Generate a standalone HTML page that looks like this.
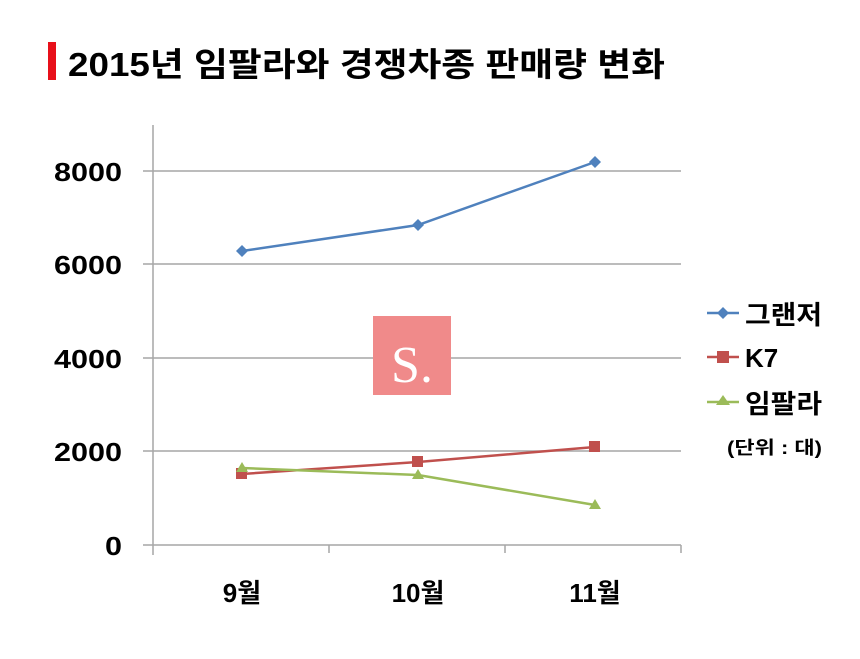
<!DOCTYPE html>
<html><head><meta charset="utf-8"><style>
body{margin:0;background:#fff;}
svg text{font-family:"Liberation Sans","Noto Sans CJK KR",sans-serif;font-weight:bold;fill:#000;}
</style></head><body>
<svg width="860" height="654" xmlns="http://www.w3.org/2000/svg">
<rect width="860" height="654" fill="#fff"/>
<rect x="48" y="42" width="8" height="38" fill="#e8101a"/>
<text x="68" y="76" font-size="33" textLength="597" lengthAdjust="spacingAndGlyphs">2015년 임팔라와 경쟁차종 판매량 변화</text>
<g stroke="#a6a6a6" stroke-width="1.5">
<line x1="143" y1="171" x2="681" y2="171"/>
<line x1="143" y1="264" x2="681" y2="264"/>
<line x1="143" y1="358" x2="681" y2="358"/>
<line x1="143" y1="451" x2="681" y2="451"/>
<line x1="143" y1="545" x2="681" y2="545"/>
<line x1="153" y1="125" x2="153" y2="555"/>
<line x1="329" y1="545" x2="329" y2="553"/>
<line x1="505" y1="545" x2="505" y2="553"/>
<line x1="681" y1="545" x2="681" y2="553"/>
</g>
<g font-size="26">
<text x="54" y="181" textLength="68" lengthAdjust="spacingAndGlyphs">8000</text>
<text x="54" y="274" textLength="68" lengthAdjust="spacingAndGlyphs">6000</text>
<text x="54" y="368" textLength="68" lengthAdjust="spacingAndGlyphs">4000</text>
<text x="54" y="461" textLength="68" lengthAdjust="spacingAndGlyphs">2000</text>
<text x="105" y="555" textLength="17" lengthAdjust="spacingAndGlyphs">0</text>
</g>
<g font-size="26" text-anchor="middle">
<text x="242" y="602">9월</text>
<text x="418" y="602">10월</text>
<text x="595" y="602">11월</text>
</g>
<rect x="373" y="316" width="78" height="79" fill="#f08a8a"/>
<text x="412" y="382" font-size="52" text-anchor="middle" style="font-family:'Liberation Serif',serif;font-weight:normal;fill:#fff">S.</text>
<polyline points="242,251 418,225 595,162" fill="none" stroke="#4f81bd" stroke-width="2.5"/>
<g fill="#4f81bd">
<polygon points="242,245 248,251 242,257 236,251"/>
<polygon points="418,219 424,225 418,231 412,225"/>
<polygon points="595,156 601,162 595,168 589,162"/>
</g>
<polyline points="242,474 418,462 595,447" fill="none" stroke="#c0504d" stroke-width="2.5"/>
<g fill="#c0504d">
<rect x="236" y="468" width="11" height="11"/>
<rect x="412" y="456" width="11" height="11"/>
<rect x="589" y="441" width="11" height="11"/>
</g>
<polyline points="242,468 418,475 595,505" fill="none" stroke="#9bbb59" stroke-width="2.5"/>
<g fill="#9bbb59">
<polygon points="242,462 248,472 236,472"/>
<polygon points="418,469 424,479 412,479"/>
<polygon points="595,499 601,509 589,509"/>
</g>
<line x1="707" y1="313" x2="739" y2="313" stroke="#4f81bd" stroke-width="2.5"/>
<polygon points="723,307 729,313 723,319 717,313" fill="#4f81bd"/>
<text x="745" y="324" font-size="26" textLength="77" lengthAdjust="spacingAndGlyphs">그랜저</text>
<line x1="707" y1="357" x2="739" y2="357" stroke="#c0504d" stroke-width="2.5"/>
<rect x="717" y="351" width="12" height="12" fill="#c0504d"/>
<text x="745" y="367" font-size="26">K7</text>
<line x1="707" y1="402" x2="739" y2="402" stroke="#9bbb59" stroke-width="2.5"/>
<polygon points="723,395 730,405 716,405" fill="#9bbb59"/>
<text x="745" y="413" font-size="26" textLength="77" lengthAdjust="spacingAndGlyphs">임팔라</text>
<text x="727" y="454" font-size="18" textLength="95" lengthAdjust="spacingAndGlyphs">(단위 : 대)</text>
</svg>
</body></html>
